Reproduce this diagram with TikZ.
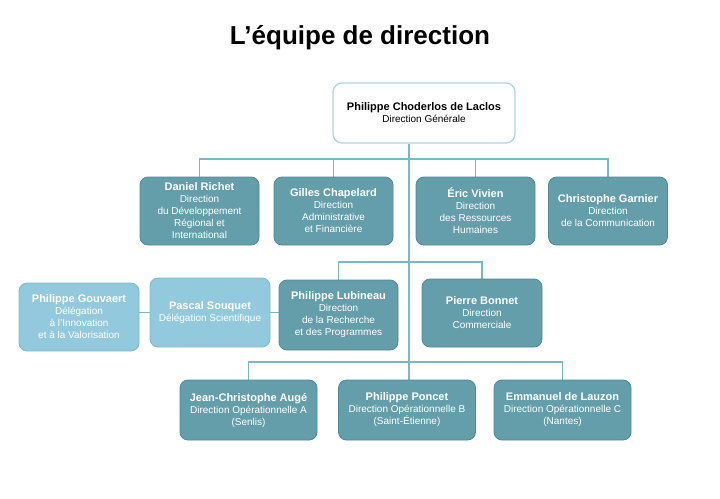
\documentclass[tikz,border=0pt]{standalone}
\usepackage{fontspec}
\setmainfont{Liberation Sans}
\usetikzlibrary{positioning,calc,backgrounds}
\definecolor{boxTeal}{RGB}{100,158,170}
\definecolor{boxTealD}{RGB}{80,138,151}
\definecolor{boxLight}{RGB}{146,201,220}
\definecolor{boxLightD}{RGB}{128,186,206}
\definecolor{lnkBlue}{RGB}{120,184,200}
\definecolor{topEdge}{RGB}{175,212,226}
\tikzstyle{dirBox}=[rectangle,rounded corners=8pt,fill=boxTeal,draw=boxTealD,line width=0.8pt,text=white,align=center,inner sep=1pt,font=\fontsize{10}{12}\selectfont]
\tikzstyle{delBox}=[dirBox,fill=boxLight,draw=boxLightD]
\tikzstyle{topBox}=[rectangle,rounded corners=9pt,fill=white,draw=topEdge,line width=1.2pt,align=center,inner sep=1pt,font=\fontsize{10}{12}\selectfont]
\tikzstyle{lnk}=[draw=lnkBlue,line width=1.1pt]
\newcommand{\nm}[1]{{\fontsize{11}{12}\selectfont\bfseries #1}}

\begin{document}
\begin{tikzpicture}[x=1pt,y=-1pt]
                \useasboundingbox (0,0) rectangle (720,498);
                \draw (360,38) node[font=\fontsize{26}{28}\selectfont\bfseries] (title) {L’équipe de direction};
                % direction generale
                \draw (424,113) node[topBox,minimum width=182pt,minimum height=60pt] (laclos) {\nm{Philippe Choderlos de Laclos}\\Direction Générale};
                % premiere ligne
                \draw (199.5,211) node[dirBox,minimum width=119pt,minimum height=68pt] (richet) {\nm{Daniel Richet}\\Direction\\du Développement\\Régional et\\International};
                \draw (333.5,211) node[dirBox,minimum width=119pt,minimum height=68pt] (chapelard) {\nm{Gilles Chapelard}\\Direction\\Administrative\\et Financière};
                \draw (475.5,211) node[dirBox,minimum width=119pt,minimum height=68pt] (vivien) {\nm{Éric Vivien}\\Direction\\des Ressources\\Humaines};
                \draw (608,211) node[dirBox,minimum width=119pt,minimum height=68pt] (garnier) {\nm{Christophe Garnier}\\Direction\\de la Communication};
                % deuxieme ligne
                \draw (79,317) node[delBox,minimum width=120pt,minimum height=68pt] (gouvaert) {\nm{Philippe Gouvaert}\\Délégation\\à l’Innovation\\et à la Valorisation};
                \draw (210,312.5) node[delBox,minimum width=120pt,minimum height=69pt] (souquet) {\nm{Pascal Souquet}\\Délégation Scientifique};
                \draw (338.5,315) node[dirBox,minimum width=119pt,minimum height=70pt] (lubineau) {\nm{Philippe Lubineau}\\Direction\\de la Recherche\\et des Programmes};
                \draw (482,313) node[dirBox,minimum width=120pt,minimum height=68pt] (bonnet) {\nm{Pierre Bonnet}\\Direction\\Commerciale};
                % troisieme ligne
                \draw (248.5,410) node[dirBox,minimum width=137pt,minimum height=60pt] (auge) {\nm{Jean-Christophe Augé}\\Direction Opérationnelle A\\(Senlis)};
                \draw (407,410) node[dirBox,minimum width=137pt,minimum height=60pt] (poncet) {\nm{Philippe Poncet}\\Direction Opérationnelle B\\(Saint-Étienne)};
                \draw (562.5,410) node[dirBox,minimum width=137pt,minimum height=60pt] (lauzon) {\nm{Emmanuel de Lauzon}\\Direction Opérationnelle C\\(Nantes)};
                \coordinate (j1) at (409,159);
                \coordinate (j2) at (409,262);
                \coordinate (j3) at (409,362);
                \begin{scope}[on background layer]
                \path[lnk]
                    (j1 |- laclos.south) -- (j1) -- (j2) -- (j3) -- (j3 |- poncet.north)
                    (richet.north) |- (j1) -| (garnier.north)
                    (chapelard.north) -- (chapelard.north |- j1)
                    (vivien.north) -- (vivien.north |- j1)
                    (lubineau.north) |- (j2) -| (bonnet.north)
                    (auge.north) |- (j3) -| (lauzon.north)
                    (souquet.west) -- (souquet.west -| gouvaert.east)
                    (souquet.east) -- (souquet.east -| lubineau.west)
                ;
                \end{scope}
        \end{tikzpicture}
\end{document}
